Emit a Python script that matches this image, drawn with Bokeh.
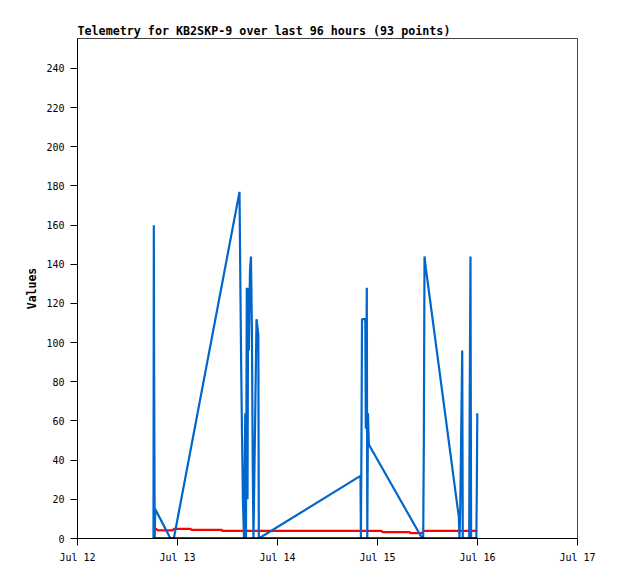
import pandas as pd
from bokeh.plotting import figure
from bokeh.models import FixedTicker, DatetimeTickFormatter, Range1d
from bokeh.embed import file_html
from bokeh.resources import INLINE

title_text = "Telemetry for KB2SKP-9 over last 96 hours (93 points)"
y_label = "Values"

blue_times = [
    "2023-07-12 18:14", "2023-07-12 18:19", "2023-07-12 18:24", "2023-07-12 18:32", "2023-07-12 18:39",
    "2023-07-12 22:19", "2023-07-12 23:07",
    "2023-07-13 14:53", "2023-07-13 15:07", "2023-07-13 15:17", "2023-07-13 15:29", "2023-07-13 15:43",
    "2023-07-13 15:58", "2023-07-13 16:16", "2023-07-13 16:26", "2023-07-13 16:38", "2023-07-13 16:48",
    "2023-07-13 16:57", "2023-07-13 17:07", "2023-07-13 17:24", "2023-07-13 17:38", "2023-07-13 17:51",
    "2023-07-13 18:04", "2023-07-13 18:14", "2023-07-13 18:58", "2023-07-13 19:24", "2023-07-13 19:31",
    "2023-07-14 19:55", "2023-07-14 20:01", "2023-07-14 20:10", "2023-07-14 20:17", "2023-07-14 21:04",
    "2023-07-14 21:12", "2023-07-14 21:26", "2023-07-14 21:33", "2023-07-14 21:43", "2023-07-14 21:55",
    "2023-07-15 10:44", "2023-07-15 10:58", "2023-07-15 11:07", "2023-07-15 11:17", "2023-07-15 11:36",
    "2023-07-15 19:31", "2023-07-15 19:41", "2023-07-15 19:52", "2023-07-15 20:20", "2023-07-15 20:28",
    "2023-07-15 22:00", "2023-07-15 22:08", "2023-07-15 22:19", "2023-07-15 22:28",
    "2023-07-15 23:43", "2023-07-15 23:50", "2023-07-15 23:57",
]
blue_values = [
    0, 160, 80, 0, 15,
    0, 0,
    177, 123, 88, 53, 18,
    0, 64, 0, 128, 20,
    128, 96, 137, 144, 108,
    36, 0, 112, 104, 0,
    32, 0, 56, 112, 112,
    56, 128, 0, 64, 48,
    0, 0, 48, 144, 138,
    11, 0, 16, 96, 0,
    0, 72, 144, 0,
    0, 24, 64,
]

red_times = [
    "2023-07-12 18:14", "2023-07-12 18:50", "2023-07-12 19:19", "2023-07-12 22:48", "2023-07-12 23:07",
    "2023-07-13 03:07", "2023-07-13 03:22", "2023-07-13 10:34", "2023-07-13 10:48",
    "2023-07-15 00:58", "2023-07-15 01:12", "2023-07-15 07:41", "2023-07-15 07:55",
    "2023-07-15 10:44", "2023-07-15 10:58", "2023-07-15 23:57",
]
red_values = [4.1, 4.9, 4.1, 4.1, 4.9, 4.9, 4.4, 4.4, 3.9, 3.9, 3.3, 3.3, 2.7, 2.7, 3.9, 3.9]

black_times = ["2023-07-12 18:14", "2023-07-15 23:57"]
black_values = [0, 0]

day_ticks = ["2023-07-12", "2023-07-13", "2023-07-14", "2023-07-15", "2023-07-16", "2023-07-17"]
y_ticks = [0, 20, 40, 60, 80, 100, 120, 140, 160, 180, 200, 220, 240]

def to_dt(lst):
    return pd.to_datetime(lst)

def to_ms(lst):
    return [pd.Timestamp(t).value / 1e6 for t in lst]

tick_ms = to_ms(day_ticks)

p = figure(
    width=610, height=571,
    x_axis_type="datetime",
    output_backend="svg", toolbar_location=None,
    x_range=Range1d(tick_ms[0], tick_ms[-1]),
    y_range=Range1d(0, 255.3),
    min_border_left=77, min_border_right=33, min_border_top=38, min_border_bottom=33,
)
p.title.text = title_text
p.title.text_font = "DejaVu Sans Mono"
p.title.text_font_style = "bold"
p.title.text_font_size = "11.7px"
p.title.text_color = "black"
p.title.align = "left"
p.title.standoff = 2
p.title.offset = 0

p.outline_line_color = "#444444"
p.outline_line_width = 1
p.xgrid.visible = False
p.ygrid.visible = False
p.background_fill_color = "white"
p.border_fill_color = "white"

p.line(to_dt(red_times), red_values, line_color="#FF0000", line_width=2.2)
p.line(to_dt(blue_times), blue_values, line_color="#0066CC", line_width=2.2)
p.line(to_dt(black_times), black_values, line_color="black", line_width=2.5)

p.xaxis.ticker = FixedTicker(ticks=tick_ms)
fmt = "%b %d"
p.xaxis.formatter = DatetimeTickFormatter(
    milliseconds=fmt, seconds=fmt, minsec=fmt, minutes=fmt, hourmin=fmt,
    hours=fmt, days=fmt, months=fmt, years=fmt,
)
p.yaxis.ticker = FixedTicker(ticks=y_ticks)
p.yaxis.axis_label = y_label

for ax in (p.xaxis[0], p.yaxis[0]):
    ax.axis_line_color = "black"
    ax.axis_line_width = 1
    ax.major_tick_line_color = "black"
    ax.major_tick_out = 7
    ax.major_tick_in = 0
    ax.minor_tick_out = 0
    ax.minor_tick_in = 0
    ax.major_label_text_font = "DejaVu Sans Mono"
    ax.major_label_text_font_size = "10px"
    ax.major_label_text_color = "black"
    ax.major_label_standoff = 6

p.yaxis.axis_label_text_font = "DejaVu Sans Mono"
p.yaxis.axis_label_text_font_style = "bold"
p.yaxis.axis_label_text_font_size = "11.5px"
p.yaxis.axis_label_text_color = "black"
p.yaxis.axis_label_standoff = 4

open("out.html", "w").write(file_html(p, INLINE))
